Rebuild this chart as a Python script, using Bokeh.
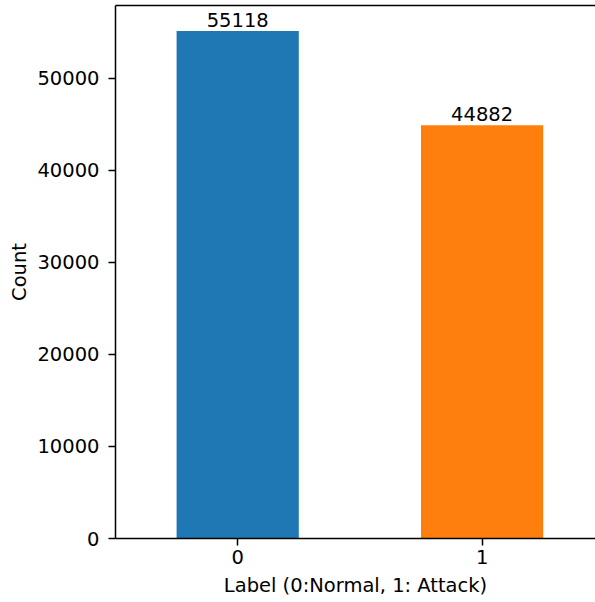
from bokeh.plotting import figure
from bokeh.models import FixedTicker, LinearAxis, Range1d, ColumnDataSource
from bokeh.embed import file_html
from bokeh.resources import INLINE
from bokeh.core.properties import value

labels = [0, 1]
counts = [55118, 44882]
colors = ["#1f77b4", "#ff7f0e"]
tick_labels = {0: "0", 1: "1"}
y_ticks = [0, 10000, 20000, 30000, 40000, 50000]

FONT = "DejaVu Sans"
FS = "19.5px"

src = ColumnDataSource(dict(x=labels, top=counts, color=colors, txt=[str(c) for c in counts]))

p = figure(width=595, height=602, output_backend="svg", toolbar_location=None,
           x_range=Range1d(-0.5, 1.464), y_range=Range1d(0, 57874),
           min_border_left=115, min_border_right=0, min_border_top=5, min_border_bottom=64)
p.outline_line_color = None
p.grid.visible = False
p.background_fill_color = "white"
p.border_fill_color = "white"

p.vbar(x="x", top="top", width=0.5, bottom=0, fill_color="color", line_color=None, source=src)
p.text(x="x", y="top", text="txt", source=src, text_align="center", text_baseline="alphabetic",
       y_offset=-11, text_font=value(FONT), text_font_size=FS, text_color="#000000")

for ax in (p.xaxis[0], p.yaxis[0]):
    ax.axis_line_color = "black"
    ax.axis_line_width = 1.5
    ax.major_tick_line_color = "black"
    ax.major_tick_line_width = 1.5
    ax.major_tick_out = 7
    ax.major_tick_in = 0
    ax.minor_tick_line_color = None
    ax.major_label_text_font = FONT
    ax.major_label_text_font_size = FS
    ax.major_label_text_color = "#000000"
    ax.axis_label_text_font = FONT
    ax.axis_label_text_font_size = FS
    ax.axis_label_text_font_style = "normal"
    ax.axis_label_text_color = "#000000"

p.xaxis.ticker = FixedTicker(ticks=labels)
p.xaxis.major_label_overrides = tick_labels
p.xaxis.axis_label = "Label (0:Normal, 1: Attack)"
p.xaxis.major_label_standoff = 4
p.xaxis.axis_label_standoff = 7

p.yaxis.ticker = FixedTicker(ticks=y_ticks)
p.yaxis.axis_label = "Count"
p.yaxis.major_label_standoff = 9
p.yaxis.axis_label_standoff = 3

top = LinearAxis(ticker=FixedTicker(ticks=[]), major_label_text_font_size="0px",
                 major_tick_out=0, major_tick_in=0, major_label_standoff=0,
                 minor_tick_line_color=None, axis_line_color="black", axis_line_width=1.5)
p.add_layout(top, "above")

open("out.html", "w").write(file_html(p, INLINE))
